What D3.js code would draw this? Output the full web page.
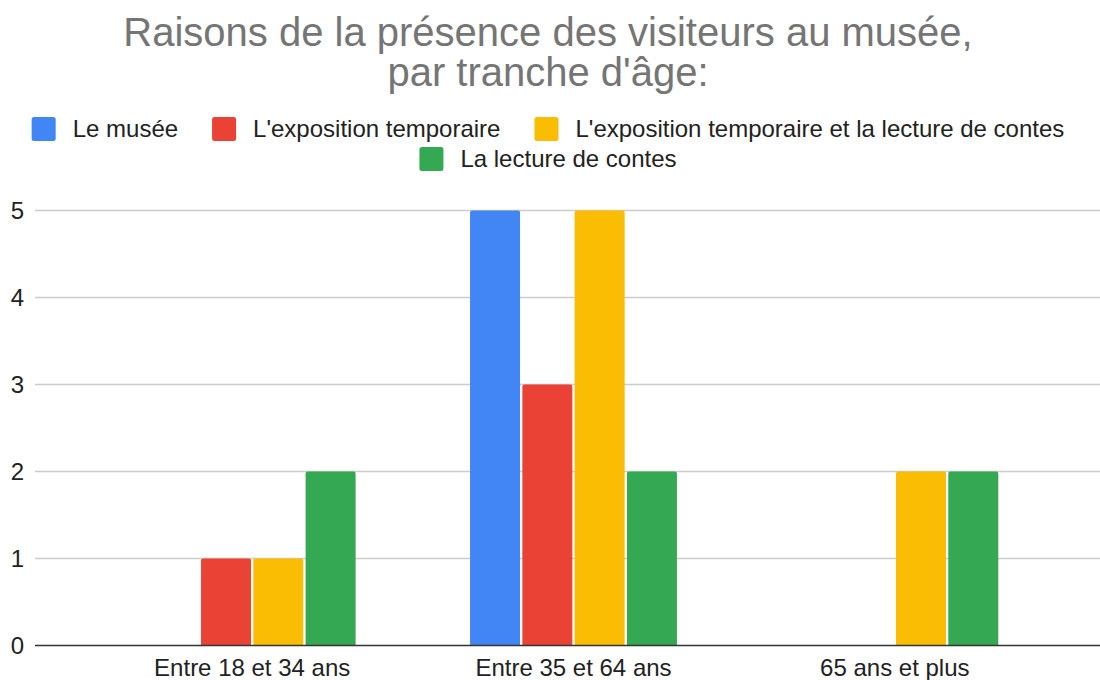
<!DOCTYPE html>
<html>
<head>
<meta charset="utf-8">
<script src="https://cdn.jsdelivr.net/npm/d3@7"></script>
<style>
  html, body { margin: 0; padding: 0; background: #fff; }
  svg { display: block; font-family: "Liberation Sans", Arial, sans-serif; }
</style>
</head>
<body>
<svg id="chart" width="1100" height="680"></svg>
<script>
const titleLines = ["Raisons de la présence des visiteurs au musée,", "par tranche d'âge:"];
const categories = ["Entre 18 et 34 ans", "Entre 35 et 64 ans", "65 ans et plus"];
const seriesNames = ["Le musée", "L'exposition temporaire", "L'exposition temporaire et la lecture de contes", "La lecture de contes"];
const seriesColors = ["#4285F4", "#EA4335", "#FBBC04", "#34A853"];
const valuesMusee = [0, 5, 0];
const valuesExpo = [1, 3, 0];
const valuesExpoContes = [1, 5, 2];
const valuesContes = [2, 2, 2];
const yTicks = [0, 1, 2, 3, 4, 5];

const seriesValues = [valuesMusee, valuesExpo, valuesExpoContes, valuesContes];
const svg = d3.select("#chart");

// Title
svg.append("g").selectAll("text").data(titleLines).join("text")
  .attr("x", 548).attr("y", (d, i) => 46 + i * 40)
  .attr("text-anchor", "middle")
  .attr("font-size", 40).attr("fill", "#757575")
  .text(d => d);

// Scales
const y = d3.scaleLinear().domain([0, 5]).range([645.5, 210.5]);
const x0 = d3.scaleBand().domain(categories).range([91.5, 1055.5]).padding(0);
const x1 = d3.scaleBand().domain(seriesNames).range([-104.6, 104.6]).paddingInner(0.044).paddingOuter(0.022);

// Gridlines
const grid = svg.append("g");
grid.selectAll("line").data(yTicks.filter(t => t !== 0)).join("line")
  .attr("x1", 35).attr("x2", 1100)
  .attr("y1", d => y(d)).attr("y2", d => y(d))
  .attr("stroke", "#cccccc").attr("stroke-width", 1.5);

// Y axis labels
const yAxis = d3.axisLeft(y).tickValues(yTicks).tickSize(0).tickPadding(0).tickFormat(d3.format("d"));
const yg = svg.append("g").attr("transform", "translate(24,0)").call(yAxis);
yg.select(".domain").remove();
yg.selectAll("text").attr("font-size", 24).attr("fill", "#222").attr("font-family", "Liberation Sans, Arial, sans-serif");

// Bars
const barData = [];
categories.forEach((c, ci) => {
  seriesNames.forEach((s, si) => {
    barData.push({ cat: c, series: s, value: seriesValues[si][ci], color: seriesColors[si] });
  });
});
function barPath(d) {
  const cx = x0(d.cat) + x0.bandwidth() / 2;
  const bx = cx + x1(d.series);
  const bw = x1.bandwidth();
  const top = y(d.value), bot = y(0);
  const r = 2;
  return `M${bx},${bot} L${bx},${top + r} Q${bx},${top} ${bx + r},${top} L${bx + bw - r},${top} Q${bx + bw},${top} ${bx + bw},${top + r} L${bx + bw},${bot} Z`;
}
svg.append("g").selectAll("path").data(barData.filter(d => d.value > 0)).join("path")
  .attr("d", barPath).attr("fill", d => d.color);

// Zero line
svg.append("line").attr("x1", 35).attr("x2", 1100).attr("y1", y(0)).attr("y2", y(0))
  .attr("stroke", "#333").attr("stroke-width", 1.5);

// X axis labels
const xAxis = d3.axisBottom(x0).tickSize(0).tickPadding(0);
const xg = svg.append("g").attr("transform", `translate(0,${y(0)})`).call(xAxis);
xg.select(".domain").remove();
xg.selectAll("text").attr("font-size", 24).attr("fill", "#222").attr("dy", null).attr("y", 30)
  .attr("font-family", "Liberation Sans, Arial, sans-serif");

// Legend
const legendRows = [[0, 1, 2], [3]];
const rowBaselines = [137, 167];
const sq = 24, gapText = 17, gapItem = 34, centerX = 548;
const lg = svg.append("g");
legendRows.forEach((row, ri) => {
  const widths = row.map(i => {
    const t = lg.append("text").attr("font-size", 24).text(seriesNames[i]);
    const w = t.node().getComputedTextLength();
    t.remove();
    return w;
  });
  const total = row.reduce((acc, i, k) => acc + sq + gapText + widths[k], 0) + gapItem * (row.length - 1);
  let cx = centerX - total / 2;
  row.forEach((i, k) => {
    lg.append("rect").attr("x", cx).attr("y", rowBaselines[ri] - 20).attr("width", sq).attr("height", sq)
      .attr("rx", 2.5).attr("fill", seriesColors[i]);
    lg.append("text").attr("x", cx + sq + gapText).attr("y", rowBaselines[ri])
      .attr("font-size", 24).attr("fill", "#222").text(seriesNames[i]);
    cx += sq + gapText + widths[k] + gapItem;
  });
});
</script>
</body>
</html>
